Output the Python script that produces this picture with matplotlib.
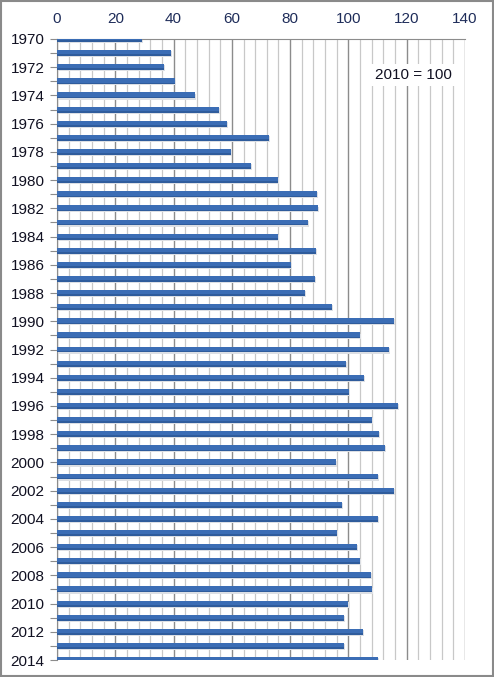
import matplotlib
matplotlib.use('Agg')
import matplotlib.pyplot as plt
import numpy as np

# index values, 2010 = 100
years = list(range(1970, 2015))
values = [29.0, 39.0, 36.6, 40.4, 47.2, 55.5, 58.2, 72.6, 59.7, 66.5,
          75.8, 89.1, 89.4, 86.0, 75.8, 88.8, 80.2, 88.4, 85.0, 94.2,
          115.6, 104.0, 113.8, 99.1, 105.2, 100.1, 116.9, 108.0, 110.4, 112.4,
          95.6, 110.0, 115.5, 97.7, 110.0, 96.0, 102.8, 103.9, 107.6, 108.0,
          100.0, 98.4, 104.9, 98.4, 110.0]
label_years = [str(y) if y % 2 == 0 else '' for y in years]
note = '2010 = 100'

plt.rcParams['font.family'] = ['Liberation Sans', 'DejaVu Sans']

fig = plt.figure(figsize=(4.94, 6.77), dpi=100)
ax = fig.add_axes([0.1154, 0.0251, 0.8259, 0.9173])

# soft shadow under bars, then the bars
ax.barh(np.array(years) + 0.08, values, height=0.42, left=0.4, color='#dcdfe4', zorder=2)
ax.barh(years, values, height=0.42, color='#3b6db5', zorder=3)
ax.barh(np.array(years) + 0.15, values, height=0.12, color='#2f5c9c', zorder=3)

ax.set_xlim(0, 140)
ax.set_ylim(2014, 1970)
ax.set_xticks(np.arange(0, 141, 20))
ax.set_xticks(np.arange(0, 141, 4), minor=True)
ax.xaxis.tick_top()
ax.tick_params(axis='x', which='both', length=0, labelsize=11, labelcolor='#1f2d5a', pad=9)
ax.grid(axis='x', which='major', color='#8c8c8c', lw=1.0, zorder=1)
ax.grid(axis='x', which='minor', color='#c8c8c8', lw=0.9, zorder=1)

ax.set_yticks(years)
ax.set_yticklabels(label_years)
ax.tick_params(axis='y', length=5, color='#8c8c8c', labelsize=11, labelcolor='#111122', pad=4)

for s in ['right', 'bottom']:
    ax.spines[s].set_visible(False)
ax.spines['left'].set_color('#8c8c8c')
ax.spines['top'].set_color('#8c8c8c')

ax.text(122.2, 1972.55, note, ha='center', va='center', fontsize=11, color='#111122',
        bbox=dict(facecolor='white', edgecolor='none', pad=3), zorder=5)

# outer frame
fig.patches.append(plt.Rectangle((0.002, 0.002), 0.996, 0.996, transform=fig.transFigure,
                                 fill=False, edgecolor='#8a8a8a', lw=1.5))

fig.savefig('out.png', dpi=100)
